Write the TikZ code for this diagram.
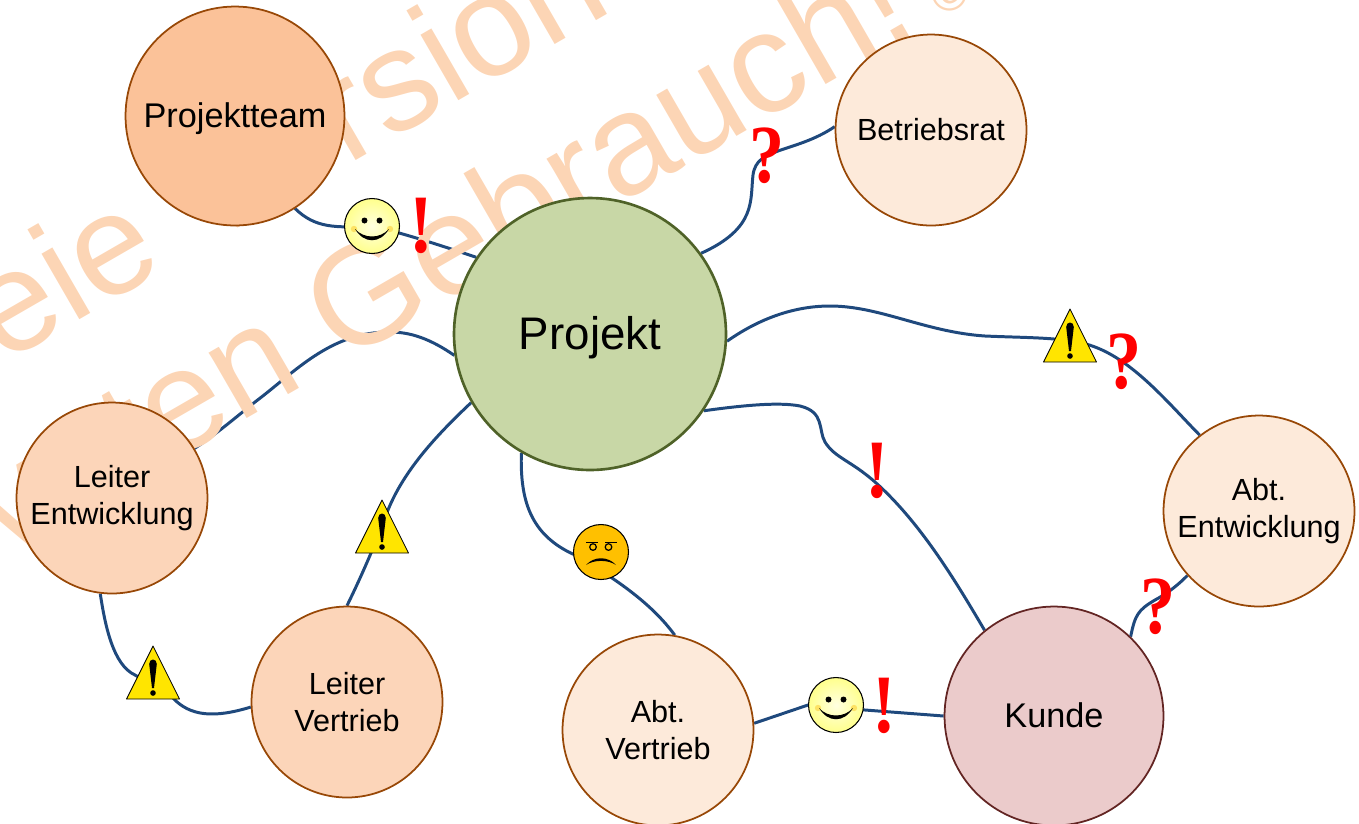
\documentclass[tikz,border=0pt]{standalone}
\usepackage{fontspec}
\setmainfont{Liberation Sans}
\newfontfamily\signfont{Liberation Serif}
\usetikzlibrary{positioning, backgrounds, calc, shapes}
\definecolor{linkblue}{HTML}{1F497D}
\definecolor{wmark}{HTML}{FCD5B5}
\definecolor{hubgreen}{HTML}{C8D7A6}
\definecolor{hubline}{HTML}{4F6228}
\definecolor{rimbrown}{HTML}{984807}
\definecolor{teamfill}{HTML}{FBC299}
\definecolor{midfill}{HTML}{FCD5B9}
\definecolor{palefill}{HTML}{FDEADA}
\definecolor{custfill}{HTML}{EBCBCB}
\definecolor{custline}{HTML}{632523}
\definecolor{warnfill}{HTML}{FFE500}
\definecolor{angryfill}{HTML}{FFC000}
\tikzset{%
  bubble/.style   = {draw, circle, inner sep = 0pt, align = center, text = black},
  hub/.style      = {bubble, minimum size = 5.44cm, fill = hubgreen, draw = hubline, line width = 1.5pt,
    text height = 23.6pt, text depth = 5.5pt, font = \fontsize{26}{30}\selectfont},
  team/.style     = {bubble, minimum size = 4.38cm, fill = teamfill, draw = rimbrown, line width = 1pt,
    text height = 17.6pt, text depth = 4.1pt, font = \fontsize{19.5}{23}\selectfont},
  lead/.style     = {bubble, minimum size = 3.82cm, fill = midfill, draw = rimbrown, line width = 1pt,
    font = \fontsize{17.4}{21}\selectfont},
  dept/.style     = {lead, fill = palefill},
  client/.style   = {team, fill = custfill, draw = custline},
  link/.style     = {draw = linkblue, line width = 1.7pt},
  wmtext/.style   = {text = wmark, rotate = 30, anchor = base west, inner sep = 0pt,
    font = \fontsize{81.5}{85}\selectfont},
  excl/.style     = {text = red, inner sep = 0pt, yscale = 1.05, xscale = 0.9, transform shape,
    font = \signfont\bfseries\fontsize{45}{45}\selectfont},
  quest/.style    = {text = red, inner sep = 0pt, xscale = 0.85, transform shape,
    font = \signfont\bfseries\fontsize{47}{47}\selectfont},
  smile/.style    = {draw, circle, inner sep = 0pt, minimum size = 1.1cm, line width = 0.6pt,
    inner color = yellow!12, outer color = yellow!45},
  angry/.style    = {draw, circle, inner sep = 0pt, minimum size = 1.1cm, line width = 0.6pt, fill = angryfill},
  happy/.pic = {
    \fill (-7.5,-5.5) circle (3);
    \fill (7.5,-5.5) circle (3);
    \fill[yellow!70!orange!60] (-18,3) circle (3.2);
    \fill[yellow!70!orange!60] (18,3) circle (3.2);
    \fill (-17,3) .. controls (-8,13) and (8,13) .. (17,3)
      .. controls (8,18) and (-8,18) .. cycle;
  },
  grumpy/.pic = {
    \draw[line width = 0.9pt] (-15,-9.5) -- (-3,-9.5) (4,-9.5) -- (16,-9.5);
    \draw[line width = 0.7pt] (-8,-5) circle (3.3) (7.5,-5) circle (3.3);
    \fill (-15,13) .. controls (-7,4) and (7,4) .. (15,13)
      .. controls (7,7.5) and (-7,7.5) .. cycle;
  },
  warn/.pic = {
    \draw[fill = warnfill, line width = 0.5pt, line join = round] (0,-27) -- (26.5,26) -- (-26.5,26) -- cycle;
    \fill (-3.8,-9) .. controls (-3.8,-15) and (3.8,-15) .. (3.8,-9) -- (1,15) -- (-1,15) -- cycle;
    \fill (0,20) circle (2.8);
  }
}
\begin{document}
\begin{tikzpicture}[x = 0.02cm, y = -0.02cm]
\useasboundingbox (0,0) rectangle (1359,823);
\clip (0,0) rectangle (1359,823);
%watermark
\node [wmtext] (wmone) at (-115,432) {Freie Version};
\node [wmtext] (wmtwo) at (-134,639) {privaten Gebrauch!\hspace{0.5cm}{\fontsize{28}{30}\selectfont ©}};
%blocks
\draw
	(590,334) node [hub] (proj) {Projekt}
	(235,116) node [team] (pteam) {Projektteam}
	(931,130) node [dept] (brat) {Betriebsrat}
	(112,498) node [lead] (lentw) {Leiter\\Entwicklung}
	(347,702) node [lead] (lvert) {Leiter\\Vertrieb}
	(658,730) node [dept] (avert) {Abt.\\Vertrieb}
	(1259,511) node [dept] (aentw) {Abt.\\Entwicklung}
	(1054,716) node [client] (kunde) {Kunde};
%lines
\begin{scope}[on background layer]
\draw[link] (pteam.-57) .. controls (315,228) and (335,228) .. (372,226)
  .. controls (410,235) and (445,247) .. (proj.146);
\draw[link] (brat.178) .. controls (815,140) and (795,145) .. (778,151)
  .. controls (765,156) and (755,160) .. (753,175)
  .. controls (750,200) and (757,228) .. (proj.36);
\draw[link] (proj.-3) .. controls (760,318) and (795,306) .. (830,306)
  .. controls (880,306) and (925,332) .. (985,336)
  .. controls (1030,338) and (1070,337) .. (1095,347)
  .. controls (1135,362) and (1170,405) .. (aentw.128.5);
\draw[link] (proj.-34) .. controls (745,405) and (780,402) .. (800,406)
  .. controls (825,412) and (818,430) .. (825,442)
  .. controls (835,458) and (850,460) .. (875,482)
  .. controls (920,522) and (955,580) .. (kunde.129.4);
\draw[link] (proj.-120.5) .. controls (520,500) and (530,535) .. (575,555)
  -- (612,578) .. controls (640,597) and (660,615) .. (avert.80.5);
\draw[link] (proj.210.7) .. controls (440,432) and (405,468) .. (388,510)
  .. controls (375,545) and (362,575) .. (lvert.90);
\draw[link] (proj.189) .. controls (425,335) and (405,332) .. (389,332)
  .. controls (330,332) and (295,372) .. (255,402)
  .. controls (235,418) and (215,435) .. (lentw.31.4);
\draw[link] (lentw.-97) .. controls (105,625) and (113,665) .. (135,675)
  -- (172,697) .. controls (190,717) and (215,718) .. (lvert.183);
\draw[link] (avert.4) -- (808,705) -- (865,710) -- (kunde.180);
\draw[link] (kunde.46) .. controls (1135,615) and (1138,610) .. (1155,600)
  .. controls (1168,593) and (1178,585) .. (aentw.222);
\end{scope}
%faces
\node [smile] (faceone) at (372,226) {};
\pic at (faceone) {happy};
\node [smile] (facetwo) at (836,705) {};
\pic at (facetwo) {happy};
\node [angry] (facebad) at (601,552) {};
\pic at (facebad) {grumpy};
%warnings
\pic at (1070,336) {warn};
\pic at (382,527) {warn};
\pic at (153,673) {warn};
%signs
\node [excl] (exone) at (421,226) {!};
\node [excl] (extwo) at (877,471) {!};
\node [excl] (exthree) at (884,706) {!};
\node [quest] (quone) at (767,156) {?};
\node [quest] (qutwo) at (1124,362) {?};
\node [quest] (quthree) at (1158,607) {?};
\end{tikzpicture}
\end{document}
